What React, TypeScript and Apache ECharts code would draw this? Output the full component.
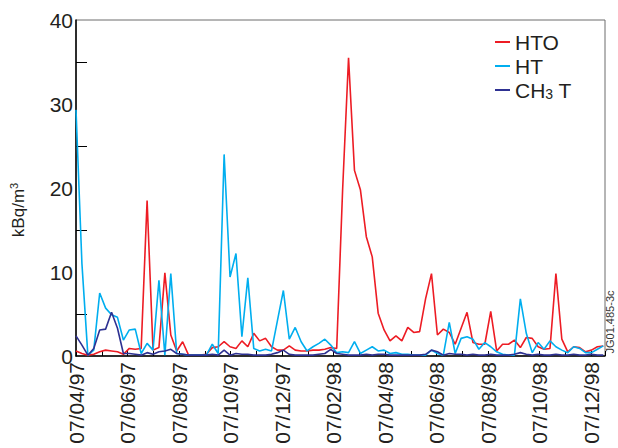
import React, { useEffect, useRef } from "react";
import * as echarts from "echarts";

// sampling: weekly, day offset from 07/04/97
const startDay = 0;
const stepDays = 7;

const tickLabels = [
  "07/04/97", "07/06/97", "07/08/97", "07/10/97", "07/12/97", "07/02/98",
  "07/04/98", "07/06/98", "07/08/98", "07/10/98", "07/12/98",
];

const htoValues = [
  0.6, 0.3, 0.1, 0.2, 0.5, 0.7, 0.6, 0.5, 0.2, 0.9,
  0.8, 0.9, 18.5, 0.7, 1.0, 9.9, 2.5, 0.6, 1.7, 0.1,
  0.1, 0.1, 0.2, 1.0, 1.1, 1.7, 1.1, 0.9, 1.8, 1.1,
  2.7, 1.8, 2.1, 1.1, 0.7, 0.7, 1.2, 0.7, 0.6, 0.6,
  0.7, 0.7, 0.8, 1.0, 0.9, 19.8, 35.5, 22.1, 19.8, 14.2,
  11.8, 5.1, 3.1, 1.8, 2.4, 1.8, 3.4, 2.8, 2.9, 6.8,
  9.8, 2.5, 3.2, 2.8, 1.4, 3.3, 5.2, 1.6, 1.4, 1.4,
  5.3, 0.6, 1.4, 1.4, 1.9, 1.0, 2.2, 2.1, 1.1, 0.8,
  0.9, 9.8, 2.0, 0.5, 1.1, 1.0, 0.5, 0.7, 1.1, 1.2,
];

const htValues = [
  29.3, 11.0, 0.1, 0.7, 7.5, 5.7, 4.9, 4.6, 1.9, 3.1,
  3.2, 0.3, 1.5, 0.7, 9.0, 0.1, 9.8, 0.3, 0.2, 0.1,
  0.1, 0.1, 0.1, 1.4, 0.3, 24.0, 9.4, 12.2, 2.3, 9.3,
  0.9, 0.6, 0.8, 0.6, 4.2, 7.8, 2.0, 3.4, 1.7, 0.6,
  1.1, 1.5, 2.0, 1.3, 0.4, 0.5, 0.4, 1.7, 0.3, 0.7,
  1.1, 0.6, 0.7, 0.3, 0.4, 0.2, 0.2, 0.1, 0.1, 0.1,
  0.7, 0.3, 0.1, 4.0, 0.3, 2.1, 2.3, 2.0, 0.8, 1.6,
  1.1, 0.5, 0.2, 0.1, 0.1, 6.8, 2.7, 0.4, 1.6, 0.8,
  1.8, 1.1, 0.7, 0.4, 1.1, 0.9, 0.4, 0.4, 0.8, 1.2,
];

const ch3tValues = [
  2.4, 1.3, 0.1, 0.9, 3.1, 3.2, 5.2, 3.3, 0.3, 0.3,
  0.2, 0.1, 0.4, 0.2, 0.5, 0.6, 0.8, 0.3, 0.2, 0.1,
  0.1, 0.1, 0.1, 0.2, 0.1, 0.7, 0.1, 0.3, 0.2, 0.2,
  0.1, 0.1, 0.1, 0.2, 0.4, 0.7, 0.2, 0.1, 0.1, 0.1,
  0.1, 0.2, 0.3, 0.8, 0.3, 0.2, 0.1, 0.1, 0.1, 0.2,
  0.1, 0.2, 0.2, 0.1, 0.1, 0.1, 0.1, 0.1, 0.1, 0.2,
  0.7, 0.5, 0.1, 0.3, 0.2, 0.2, 0.1, 0.2, 0.1, 0.1,
  0.2, 0.1, 0.1, 0.1, 0.2, 0.4, 0.2, 0.1, 0.2, 0.1,
  0.1, 0.2, 0.1, 0.1, 0.2, 0.1, 0.1, 0.2, 0.1, 0.1,
];

const seriesNames = ["HTO", "HT", "CH3T"];
const MONTH = 30.4375;
const X_MAX = 625;
const FONT = "'Liberation Sans', Arial, Helvetica, sans-serif";

function toPairs(vals: number[]) {
  return vals.map((v, i) => [startDay + i * stepDays, v]);
}

export default function App() {
  const ref = useRef<HTMLDivElement>(null);
  useEffect(() => {
    if (!ref.current) return;
    const chart = echarts.init(ref.current, null, { renderer: "svg" });
    const lineCommon = { type: "line", showSymbol: false, symbol: "none" };
    chart.setOption({
      animation: false,
      backgroundColor: "#ffffff",
      textStyle: { fontFamily: FONT },
      grid: {
        left: 76, right: 13, top: 20, bottom: 92,
        show: true, borderColor: "#6d6d6d", borderWidth: 1,
      },
      legend: {
        orient: "vertical",
        left: 490, top: 26,
        itemWidth: 15, itemHeight: 2, itemGap: 2,
        icon: "rect",
        textStyle: {
          fontFamily: FONT, fontSize: 21, color: "#231f20", lineHeight: 22,
          rich: {
            sub: { fontSize: 14, fontFamily: FONT, color: "#231f20", padding: [8, 0, 0, 0] },
          },
        },
        formatter: (name: string) => (name === "CH3T" ? "CH{sub|3} T" : name),
        data: seriesNames,
      },
      xAxis: {
        type: "value",
        min: 0,
        max: X_MAX,
        interval: MONTH,
        axisLine: { lineStyle: { color: "#000", width: 1.5 } },
        axisTick: { show: true, inside: true, length: 5, lineStyle: { color: "#000", width: 1 } },
        splitLine: { show: false },
        axisLabel: {
          rotate: 90,
          margin: 6,
          fontSize: 21,
          color: "#231f20",
          fontFamily: FONT,
          showMinLabel: true,
          showMaxLabel: true,
          formatter: (v: number) => {
            const k = Math.round(v / MONTH);
            if (Math.abs(v - k * MONTH) > 0.5 || k % 2 !== 0) return "";
            return tickLabels[k / 2] ?? "";
          },
        },
      },
      yAxis: {
        type: "value",
        min: 0,
        max: 40,
        interval: 10,
        axisLine: { show: true, lineStyle: { color: "#000", width: 1.5 } },
        axisTick: { show: true, inside: true, length: 0, lineStyle: { color: "#000", width: 1, opacity: 0 } },
        minorTick: { show: true, splitNumber: 2, length: 11, lineStyle: { color: "#000", width: 1 } },
        splitLine: { show: false },
        minorSplitLine: { show: false },
        axisLabel: { fontSize: 21, margin: 3, color: "#231f20", fontFamily: FONT },
      },
      graphic: [
        {
          type: "text",
          x: 18,
          y: 210,
          rotation: Math.PI / 2,
          style: {
            text: "kBq/m{sup|3}",
            fontSize: 17,
            fontFamily: FONT,
            fill: "#231f20",
            align: "center",
            verticalAlign: "middle",
            rich: {
              sup: { fontSize: 11, fontFamily: FONT, fill: "#231f20", padding: [0, 0, 9, 0] },
            },
          },
        },
        {
          type: "text",
          x: 610,
          y: 322,
          rotation: Math.PI / 2,
          style: {
            text: "JG01.485-3c",
            fontSize: 11,
            fontFamily: FONT,
            fill: "#333",
            align: "center",
            verticalAlign: "middle",
          },
        },
      ],
      series: [
        { ...lineCommon, name: "HTO", data: toPairs(htoValues), lineStyle: { color: "#ed1c24", width: 1.6 }, itemStyle: { color: "#ed1c24" } },
        { ...lineCommon, name: "HT", data: toPairs(htValues), lineStyle: { color: "#00aeef", width: 1.6 }, itemStyle: { color: "#00aeef" } },
        { ...lineCommon, name: "CH3T", data: toPairs(ch3tValues), lineStyle: { color: "#2e3192", width: 1.6 }, itemStyle: { color: "#2e3192" } },
      ],
    });
    return () => chart.dispose();
  }, []);
  return (
    <div
      ref={ref}
      style={{ position: "fixed", left: 0, top: 0, width: 618, height: 448 }}
    />
  );
}
